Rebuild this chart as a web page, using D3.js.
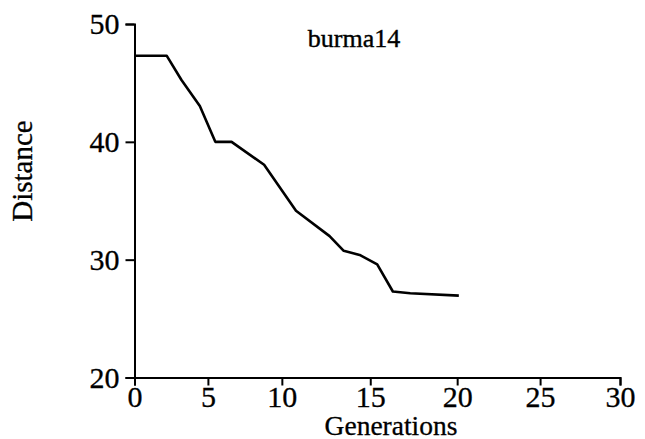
<!DOCTYPE html>
<html>
<head>
<meta charset="utf-8">
<script src="https://cdn.jsdelivr.net/npm/d3@7"></script>
<style>
  body { margin: 0; background: #fff; }
  text { font-family: "Liberation Serif", "Times New Roman", serif; fill: #000; }
</style>
</head>
<body>
<script>
// data
var generations = [0, 2.2, 3.2, 4.45, 5.5, 6.6, 8.8, 10.8, 12.7, 13.5, 14.4, 15.4, 16.3, 17.3, 20.1]
var distance = [47.3, 47.3, 45.25, 43.05, 40, 40, 38.05, 34.15, 32.0, 30.75, 30.4, 29.6, 27.3, 27.15, 26.95]
var xTicks = [0, 5, 10, 15, 20, 25, 30]
var yTicks = [20, 30, 40, 50]
var title = 'burma14'

var W = 645, H = 439

const svg = d3.select('body').append('svg')
    .attr('width', W)
    .attr('height', H)

var plotLeft = 134.5, plotRight = 620, plotTop = 24, plotBottom = 377.5

// the x axis in the picture is not evenly spaced, so map it piece by piece
var xStops = [0, 0.1512, 0.3035, 0.4856, 0.6646, 0.8354, 1]
var x = d3.scaleLinear()
    .domain(xTicks)
    .range(xStops.map(f => plotLeft + f * (plotRight - plotLeft)))

var y = d3.scaleLinear()
    .domain([20, 50])
    .range([plotBottom, plotTop])

var canvas = svg.append('g')

var xAxis = canvas.append('g')
    .attr('transform', 'translate(0,' + plotBottom + ')')
    .call(d3.axisBottom(x).tickValues(xTicks).tickSizeOuter(0).tickSize(8).tickPadding(0))

var yAxis = canvas.append('g')
    .attr('transform', 'translate(' + plotLeft + ',0)')
    .call(d3.axisLeft(y).tickValues(yTicks).tickSizeOuter(0).tickSize(9).tickPadding(6))

canvas.selectAll('.domain, .tick line')
    .attr('stroke', '#000')
    .attr('stroke-width', 2)

canvas.selectAll('.tick text')
    .style('font-size', '30px')
    .attr('fill', '#000')
    .attr('stroke', '#000')
    .attr('stroke-width', 0.3)

var line = d3.line()
    .x((d, i) => x(generations[i]))
    .y(d => y(d))

canvas.append('path')
    .datum(distance)
    .attr('d', line)
    .attr('fill', 'none')
    .attr('stroke', '#000')
    .attr('stroke-width', 2.6)
    .attr('stroke-linejoin', 'round')

canvas.append('text')
    .attr('x', 354)
    .attr('y', 47)
    .attr('text-anchor', 'middle')
    .style('font-size', '26px')
    .attr('stroke', '#000')
    .attr('stroke-width', 0.4)
    .text(title)

canvas.append('text')
    .attr('x', 391)
    .attr('y', 435)
    .attr('text-anchor', 'middle')
    .style('font-size', '27.5px')
    .attr('stroke', '#000')
    .attr('stroke-width', 0.3)
    .text('Generations')

canvas.append('text')
    .attr('transform', 'translate(32,171) rotate(-90)')
    .attr('text-anchor', 'middle')
    .style('font-size', '29px')
    .attr('stroke', '#000')
    .attr('stroke-width', 0.3)
    .text('Distance')
</script>
</body>
</html>
